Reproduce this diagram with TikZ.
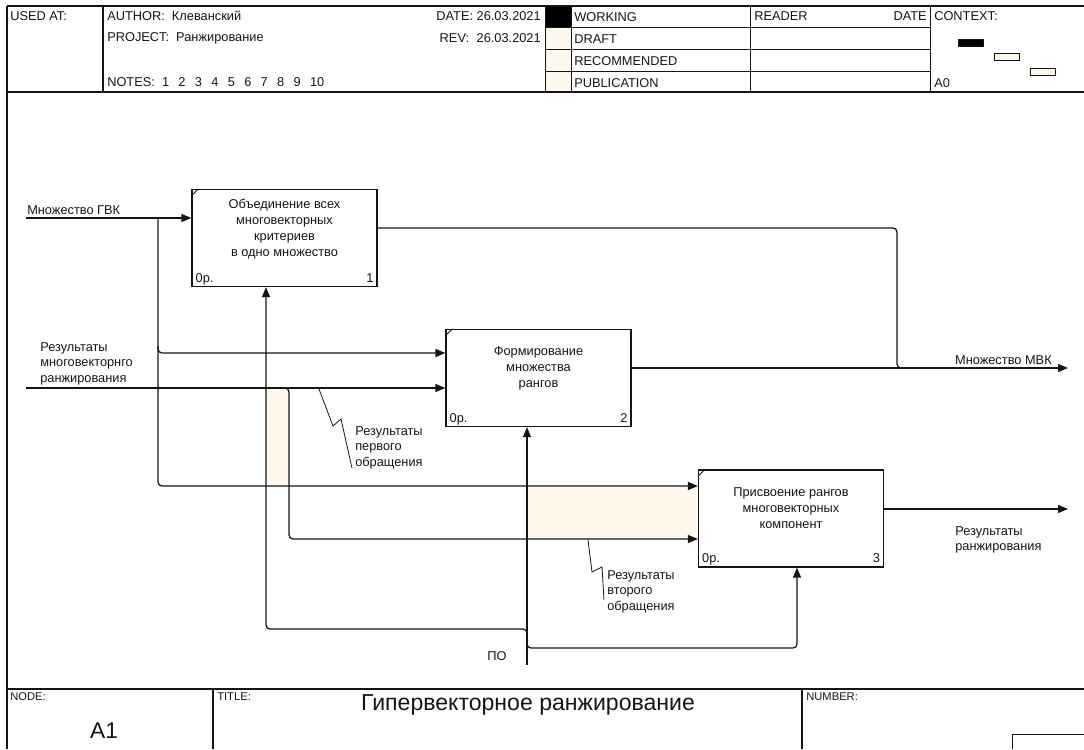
\documentclass[tikz,border=0pt]{standalone}
\usepackage{fontspec}
\setmainfont{Liberation Sans}
\usetikzlibrary{arrows.meta,calc}
\definecolor{ink}{HTML}{151515}
\definecolor{cream}{HTML}{FFF8EC}
\def\ngap{\hspace{7pt}}

\begin{document}
\begin{tikzpicture}[x=0.75pt,y=-0.75pt,
  every node/.style={inner sep=0pt, font=\fontsize{9.6}{12}\selectfont, text=ink},
  frame/.style={draw=ink, line width=1.1pt},
  cell/.style={draw=ink, line width=0.75pt},
  proc/.style={draw=ink, line width=1.2pt, fill=white, minimum width=138.5pt, minimum height=72.5pt},
  proctxt/.style={align=center},
  corner/.style={anchor=base west},
  cornerr/.style={anchor=base east},
  flow/.style={draw=ink, line width=0.95pt, rounded corners=3pt},
  arr/.style={flow, -{Triangle[length=7.5pt,width=6pt]}},
  lbl/.style={align=left, anchor=north west, font=\fontsize{9.6}{11.6}\selectfont},
  hdr/.style={anchor=west},
  small/.style={font=\fontsize{8.4}{10}\selectfont}
]
\useasboundingbox (0,0) rectangle (1084,749);

% ---------- header ----------
\fill[black] (545,6) rectangle (571,28);
\fill[cream] (545,28) rectangle (571,92);
\draw[frame] (7,6) -- (1084,6);
\draw[frame] (7,6) -- (7,749);
\draw[frame] (7,92) -- (1084,92);
\draw[frame] (103,6) -- (103,92);
\draw[cell] (545,6) -- (545,92);
\draw[cell] (571,6) -- (571,92);
\draw[cell] (750,6) -- (750,92);
\draw[cell] (930,6) -- (930,92);
\draw[cell] (545,28) -- (930,28);
\draw[cell] (545,50) -- (930,50);
\draw[cell] (545,72) -- (930,72);

\node[hdr] (usedat) at (10,16) {USED AT:};
\node[hdr] (author) at (107,16) {AUTHOR:\ \ Клеванский};
\node[hdr] (project) at (107,38) {PROJECT:\ \ Ранжирование};
\node[hdr] (notes) at (107,82) {NOTES:\ \ 1\ngap2\ngap3\ngap4\ngap5\ngap6\ngap7\ngap8\ngap9\ngap10};
\node[anchor=east] (datev) at (541,16) {DATE: 26.03.2021};
\node[anchor=east] (revv) at (541,38) {26.03.2021};
\node[anchor=east] (revk) at ($(revv.west)+(-7,0)$) {REV:};
\node[hdr] (working) at (574,17) {WORKING};
\node[hdr] (draft) at (574,39) {DRAFT};
\node[hdr] (recom) at (574,61) {RECOMMENDED};
\node[hdr] (publ) at (574,83) {PUBLICATION};
\node[hdr] (reader) at (754,16) {READER};
\node[anchor=east] (rdate) at (927,16) {DATE};
\node[hdr] (context) at (934,16) {CONTEXT:};
\node[hdr] (a0) at (934,83) {A0};
\draw[ink, line width=0.7pt, fill=black] (958,39) rectangle (983,46);
\draw[ink, line width=0.7pt, fill=cream] (994,53) rectangle (1019,60);
\draw[ink, line width=0.7pt, fill=cream] (1030,68) rectangle (1055,75);

% ---------- footer ----------
\draw[frame] (7,689) -- (1084,689);
\draw[frame] (213,689) -- (213,749);
\draw[frame] (802,689) -- (802,749);
\draw[cell] (1012,749) -- (1012,734) -- (1084,734);
\node[hdr, small] (nodek) at (10,697) {NODE:};
\node[font=\fontsize{17}{20}\selectfont] (nodev) at (104,731) {A1};
\node[hdr, small] (titlek) at (217,697) {TITLE:};
\node[font=\fontsize{17.3}{20}\selectfont] (title) at (528,705) {Гипервекторное ранжирование};
\node[hdr, small] (numk) at (806,697) {NUMBER:};

% ---------- shaded spans ----------
\fill[cream] (267,389) rectangle (289,485);
\fill[cream] (528,487) rectangle (699,539);

% ---------- activity boxes ----------
\node[proc] (b1) at (284.5,238) {};
\node[proc] (b2) at (538.5,378) {};
\node[proc] (b3) at (791,518.5) {};
\foreach \b in {b1,b2,b3}{
  \draw[ink, line width=0.6pt] ($(\b.north west)+(0,7)$) -- ($(\b.north west)+(7,0)$);
  \node[corner] at ($(\b.south west)+(4,-5)$) {0р.};
}
\node[cornerr] at ($(b1.south east)+(-4,-5)$) {1};
\node[cornerr] at ($(b2.south east)+(-4,-5)$) {2};
\node[cornerr] at ($(b3.south east)+(-4,-5)$) {3};
\node[proctxt] (t1) at ($(b1.center)+(0,-9)$) {Объединение всех\\многовекторных\\критериев\\в одно множество};
\node[proctxt] (t2) at ($(b2.center)+(0,-10)$) {Формирование\\множества\\рангов};
\node[proctxt] (t3) at ($(b3.center)+(0,-10)$) {Присвоение рангов\\многовекторных\\компонент};

% ---------- inputs ----------
\coordinate (gvk) at (26,218);
\coordinate (gvkd) at (158,218);
\draw[arr] (gvk) -- (gvk -| b1.west);
\draw[arr] (gvkd) -- (158,486) -- (b3.west |- 0,486);
\draw[arr] (158,346) -- (158,353) -- (b2.west |- 0,353);
\node[anchor=base west] (lgvk) at (27,214) {Множество ГВК};

\coordinate (rmv) at (26,388);
\draw[arr] (rmv) -- (rmv -| b2.west);
\draw[arr] (283,388) -- (289,388) -- (289,539) -- (b3.west |- 0,539);
\node[lbl] (lrmv) at (40,342) {Результаты\\многовекторнго\\ранжирования};

% ---------- outputs ----------
\coordinate (mvk) at (1068,368);
\draw[arr] (b2.east |- mvk) -- (mvk);
\draw[flow] (b1.east |- 0,228) -- (897,228) -- (897,368) -- (905,368);
\node[anchor=base east] (lmvk) at (1052,364) {Множество МВК};

\coordinate (rr) at (1068,509);
\draw[arr] (b3.east |- rr) -- (rr);
\node[lbl] (lrr) at (955,526) {Результаты\\ранжирования};

% ---------- mechanism ----------
\coordinate (po) at (527,665);
\coordinate (m1) at (266,629);
\coordinate (m3) at (797,648);
\draw[arr] (po) -- (po |- b2.south);
\draw[arr] (527,636) -- (527,629) -- (m1) -- (m1 |- b1.south);
\draw[arr] (527,641) -- (527,648) -- (m3) -- (m3 |- b3.south);
\node (lpo) at (497,656) {ПО};

% ---------- squiggles to flow labels ----------
\draw[ink, line width=0.6pt] (319,389) -- (333,426) -- (341,419) -- (352,468);
\node[lbl] (lr1) at (355,426) {Результаты\\первого\\обращения};
\draw[ink, line width=0.6pt] (588,540) -- (592,572) -- (602,567) -- (604,600);
\node[lbl] (lr2) at (607,570) {Результаты\\второго\\обращения};
\end{tikzpicture}
\end{document}
